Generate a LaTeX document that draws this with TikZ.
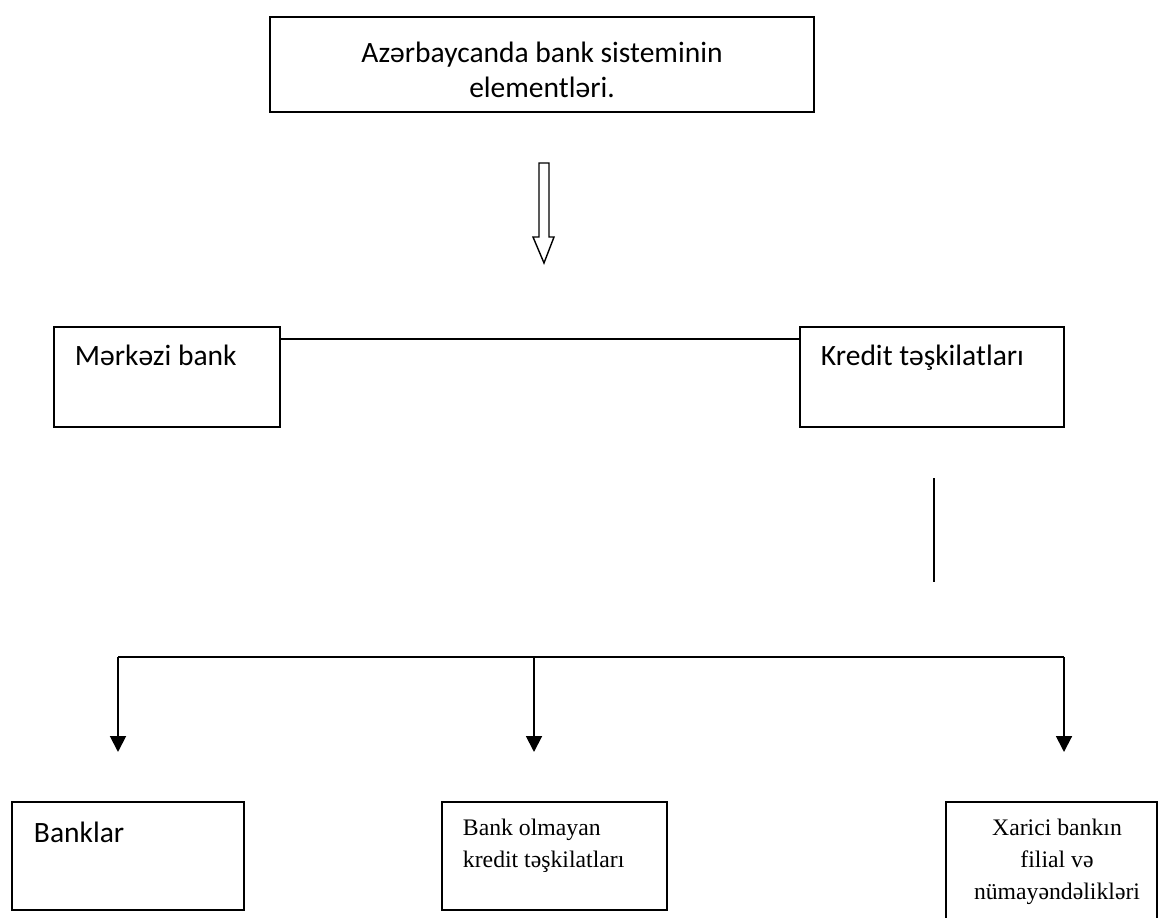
\documentclass[tikz,border=0pt]{standalone}
\usepackage{fontspec}
\setmainfont{Carlito}
\newfontfamily\tnr{Liberation Serif}
\usetikzlibrary{arrows.meta,fit}

\begin{document}
\begin{tikzpicture}[x=0.02cm,y=-0.02cm,line width=1.1pt,
		box/.style={draw,line width=1.3pt,inner sep=0pt,fit={#1}},
		txt/.style={inner sep=0pt,font=\fontsize{16.8}{20}\selectfont},
		ser/.style={inner sep=0pt,font=\tnr\fontsize{13.5}{18.2}\selectfont},
		arr/.style={-{Triangle[length=9pt,width=9pt]}}]
			\useasboundingbox (0,0) rectangle (1159,918);
			\clip (0,0) rectangle (1159,918);
			\node[box={(270,17) (814,112)}] (top) {};
			\node[txt,align=center] (toptxt) at (542,70) {Azərbaycanda bank sisteminin\\elementləri.};
			\draw[line width=0.8pt] (539,163) -- (549,163) -- (549,237) -- (554,237) -- (544,263) -- (533,237) -- (539,237) -- cycle;
			\node[box={(54,327) (280,427)}] (mb) {};
			\node[box={(800,327) (1064,427)}] (kt) {};
			\node[txt,anchor=base west] (mbtxt) at (74,366) {Mərkəzi bank};
			\node[txt,anchor=base west] (kttxt) at (820,366) {Kredit təşkilatları};
			\draw (mb.east |- 0,339) -- (kt.west |- 0,339);
			\coordinate (v1) at (934,478); \coordinate (v2) at (934,582);
			\draw (v1) -- (v2);
			\node[box={(12,802) (244,910)}] (bank) {};
			\node[box={(442,802) (667,910)}] (bok) {};
			\node[box={(946,802) (1157,940)}] (xb) {};
			\node[txt,anchor=base west] (banktxt) at (33,842) {Banklar};
			\node[ser,anchor=base west,align=left] (boktxt) at (462,867) {Bank olmayan\\kredit təşkilatları};
			\node[ser,anchor=base,align=center] (xbtxt) at (1057,899) {Xarici bankın\\filial və\\nümayəndəlikləri};
			\coordinate (h1) at (118,657); \coordinate (h2) at (534,657); \coordinate (h3) at (1064,657);
			\coordinate (e1) at (118,752); \coordinate (e2) at (534,752); \coordinate (e3) at (1064,752);
			\draw (h1) -- (h3);
			\draw[arr] (h1) -- (e1);
			\draw[arr] (h2) -- (e2);
			\draw[arr] (h3) -- (e3);
		\end{tikzpicture}
\end{document}
